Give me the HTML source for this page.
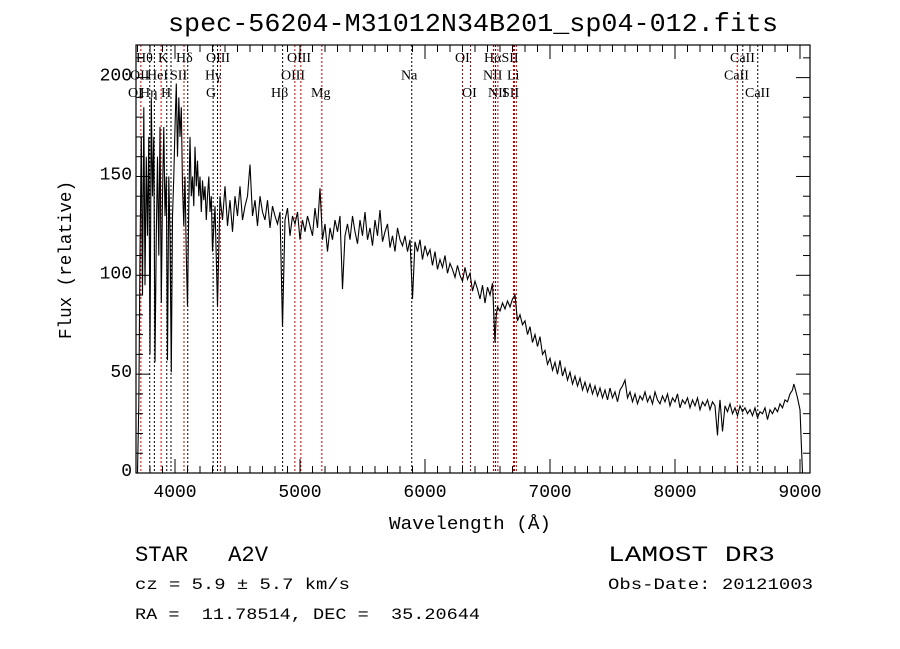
<!DOCTYPE html>
<html><head><meta charset="utf-8"><style>
html,body{margin:0;padding:0;background:#fff;}
svg{display:block;}
text{font-family:"Liberation Mono",monospace;fill:#000;white-space:pre;}
.ll{font-family:"Liberation Serif",serif;font-size:14px;}
</style></head><body>
<svg id="chart" width="900" height="649" viewBox="0 0 900 649" xmlns="http://www.w3.org/2000/svg" xml:space="preserve">
<rect width="900" height="649" fill="#fff"/>
<text x="473" y="31" font-size="26" text-anchor="middle" textLength="610" lengthAdjust="spacingAndGlyphs">spec-56204-M31012N34B201_sp04-012.fits</text>
<g id="lines"></g>
<g id="labels"></g>
<g id="axes"></g>
<path id="spec" fill="none" stroke="#000" stroke-width="1.1"/>
<text x="470" y="529" font-size="18" text-anchor="middle" textLength="162" lengthAdjust="spacingAndGlyphs">Wavelength (Å)</text>
<text x="0" y="0" font-size="18" text-anchor="middle" transform="translate(71,260) rotate(-90)" textLength="158" lengthAdjust="spacingAndGlyphs">Flux (relative)</text>
<text x="135" y="561" font-size="22" textLength="133" lengthAdjust="spacingAndGlyphs">STAR   A2V</text>
<text x="135" y="589" font-size="16" textLength="215" lengthAdjust="spacingAndGlyphs">cz = 5.9 ± 5.7 km/s</text>
<text x="135" y="619" font-size="16" textLength="345" lengthAdjust="spacingAndGlyphs">RA =  11.78514, DEC =  35.20644</text>
<text x="608" y="561" font-size="22" textLength="167" lengthAdjust="spacingAndGlyphs">LAMOST DR3</text>
<text x="608" y="589" font-size="16" textLength="205" lengthAdjust="spacingAndGlyphs">Obs-Date: 20121003</text>
</svg>
<script>
const waves=[3700,3710,3720,3730,3740,3750,3760,3770,3780,3790,3800,3810,3820,3830,3840,3850,3860,3870,3880,3890,3900,3910,3920,3930,3940,3950,3960,3970,3980,3990,4000,4010,4020,4030,4040,4050,4060,4070,4080,4090,4100,4110,4120,4130,4140,4150,4160,4170,4180,4190,4200,4210,4220,4230,4240,4250,4260,4270,4280,4290,4300,
4320,4340,4360,4380,4400,4420,4440,4460,4480,4500,4520,4540,4560,4580,4600,4620,4640,4660,4680,4700,4720,4740,4760,4780,4800,4820,4840,4860,4880,4900,4920,4940,4960,4980,5000,5020,5040,5060,5080,5100,5120,5140,5160,5180,5200,5220,5240,5260,5280,5300,5320,5340,5360,5380,5400,5420,5440,5460,5480,5500,5520,5540,5560,5580,5600,5620,5640,5660,5680,5700,5720,5740,5760,5780,5800,5820,5840,5860,5880,5900,5920,5940,5960,5980,6000,6020,6040,6060,6080,6100,6120,6140,6160,6180,6200,6220,6240,6260,6280,6300,6320,6340,6360,6380,6400,6420,6440,6460,6480,6500,6520,6540,6560,6570,6580,6600,6620,6640,6660,6680,6700,6720,6740,6760,6780,6800,
6820,6840,6860,6880,6900,6920,6940,6960,6980,7000,7020,7040,7060,7080,7100,7120,7140,7160,7180,7200,7220,7240,7260,7280,7300,7320,7340,7360,7380,7400,7420,7440,7460,7480,7500,7520,7540,7560,7580,7600,7620,7640,7660,7680,7700,7720,7740,7760,7780,7800,7820,7840,7860,7880,7900,7920,7940,7960,7980,8000,8020,8040,8060,8080,8100,8120,8140,8160,8180,8200,8220,8240,8260,8280,8300,8320,8340,8350,8360,8380,8400,8420,8440,8460,8480,8500,8520,8540,8560,8580,8600,8620,8640,8660,8680,8700,8720,8740,8760,8780,8800,8820,8840,8860,8880,8900,8920,8940,8950,8960,8980,9000,9010,9020];
const flux=[0,35,110,170,90,185,95,160,120,170,60,190,140,170,56,120,160,110,175,86,140,175,130,150,57,150,120,51,130,150,175,197,160,190,170,185,145,125,150,110,84,135,170,140,150,135,165,145,158,140,150,132,148,138,145,128,140,150,132,140,112,
135,84,140,128,145,125,138,122,140,130,145,128,135,140,156,130,138,125,140,132,128,138,124,135,130,126,132,74,128,134,120,130,126,132,118,128,122,130,125,120,134,124,144,118,126,112,124,118,128,122,130,93,120,126,118,130,122,116,128,120,132,118,124,115,128,120,133,117,122,126,114,120,112,124,118,115,120,112,118,88,117,112,118,108,115,110,113,105,112,103,108,104,110,101,106,103,99,105,100,97,104,98,101,92,97,93,88,95,86,94,90,96,66,80,84,82,86,83,87,84,88,90,77,80,75,77,
70,74,66,70,64,69,60,62,55,58,52,56,50,57,49,53,47,51,45,49,44,48,42,46,41,45,40,44,39,43,38,42,37,43,38,41,36,42,44,47,38,41,36,40,35,39,37,41,36,39,35,41,37,35,39,36,40,34,38,36,40,33,37,35,38,33,37,34,38,32,36,34,37,32,36,34,19,30,37,21,34,31,35,30,33,29,34,31,33,30,32,29,33,28,31,30,33,27,32,30,33,31,35,33,37,36,40,42,45,43,38,32,15,0];
const lineWaves=[3727,3798,3835,3889,3934,3968,4072,4102,4305,4340,4363,4861,4959,5007,5175,5894,6300,6364,6548,6563,6583,6708,6716,6731,8498,8542,8662];
const lineRed=[1,0,0,1,0,0,1,0,0,0,1,0,1,1,1,0,1,1,1,0,1,1,1,1,1,0,0];
const labelText=["Hθ","K","Hδ","OIII","OIII","OI","HαSII","CaII","OII","HeI","SII","Hγ","OIII","Na","NII","Li","CaII","OI","Hη","H","G","Hβ","Mg","OI","NII","SII","CaII"];
const labelX=[136,158,176,206,287,455,484,730,130,147,170,205,281,401,483,507,724,128,140,161,206,271,311,462,488,502,745];
const labelRow=[0,0,0,0,0,0,0,0,1,1,1,1,1,1,1,1,1,2,2,2,2,2,2,2,2,2,2];
const xTicks=[4000,5000,6000,7000,8000,9000];
const yTicks=[0,50,100,150,200];

const L=136,R=810,T=45,B=473,X0=3688,X1=9080,Y0=0,Y1=216.5;
const sx=w=>L+(w-X0)/(X1-X0)*(R-L);
const sy=f=>B-(f-Y0)/(Y1-Y0)*(B-T);
const NS="http://www.w3.org/2000/svg";
function mk(tag,attrs,parent){const e=document.createElementNS(NS,tag);for(const k in attrs)e.setAttribute(k,attrs[k]);parent.appendChild(e);return e;}

const gl=document.getElementById('lines');
lineWaves.forEach((w,i)=>{const x=sx(w);
 const e=mk('line',{x1:x,x2:x,y1:T,y2:B,stroke:lineRed[i]?'#c00000':'#000','stroke-width':1,'stroke-dasharray':'2,2'},gl);
 
 });
const glab=document.getElementById('labels');
labelText.forEach((t,i)=>{const e=mk('text',{x:labelX[i],y:62+labelRow[i]*17.5,class:'ll'},glab);e.textContent=t;
 
 });

let d='';waves.forEach((w,i)=>{d+=(i?'L':'M')+sx(w).toFixed(1)+','+sy(flux[i]).toFixed(1);});
document.getElementById('spec').setAttribute('d',d);

const ga=document.getElementById('axes');
const fr=mk('rect',{x:L,y:T,width:R-L,height:B-T,fill:'none',stroke:'#000','stroke-width':1.2},ga);


for(let w=3700;w<=9080;w+=100){const x=sx(w);const maj=w%1000===0;const len=maj?14:7;
 mk('line',{x1:x,x2:x,y1:B,y2:B-len,stroke:'#000'},ga);mk('line',{x1:x,x2:x,y1:T,y2:T+len,stroke:'#000'},ga);}
for(let f=0;f<=216;f+=10){const y=sy(f);const len=f%50===0?14:7;
 mk('line',{x1:L,x2:L+len,y1:y,y2:y,stroke:'#000'},ga);mk('line',{x1:R,x2:R-len,y1:y,y2:y,stroke:'#000'},ga);}
xTicks.forEach(v=>{const e=mk('text',{x:sx(v),y:B+24,'font-size':18,'text-anchor':'middle'},ga);e.textContent=v;
 
 });
yTicks.forEach(v=>{const e=mk('text',{x:L-4,y:sy(v)+3,'font-size':18,'text-anchor':'end'},ga);e.textContent=v;
 
 });
</script>
</body></html>
